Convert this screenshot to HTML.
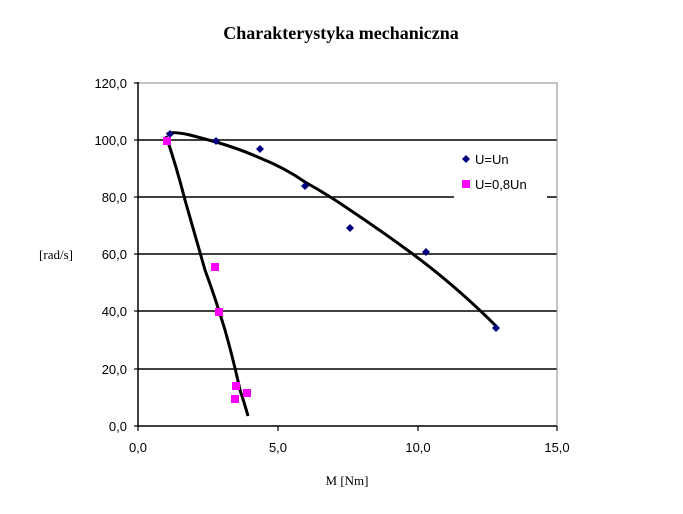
<!DOCTYPE html>
<html><head><style>body{margin:0;background:#fff}</style></head><body>
<svg width="683" height="509" viewBox="0 0 683 509" xmlns="http://www.w3.org/2000/svg">
<rect width="683" height="509" fill="#fff"/>
<text x="341" y="39" text-anchor="middle" font-family="Liberation Serif" font-weight="bold" font-size="18">Charakterystyka mechaniczna</text>
<g stroke="#000" stroke-width="1.5">
<line x1="138" y1="140" x2="557" y2="140"/>
<line x1="138" y1="197" x2="454" y2="197"/>
<line x1="547" y1="197" x2="557" y2="197"/>
<line x1="138" y1="254" x2="557" y2="254"/>
<line x1="138" y1="311" x2="557" y2="311"/>
<line x1="138" y1="369" x2="557" y2="369"/>
<line x1="138" y1="426" x2="557" y2="426"/>
</g>
<polyline points="138,83 557,83 557,426" fill="none" stroke="#888" stroke-width="1"/>
<line x1="138" y1="82" x2="138" y2="427" stroke="#000" stroke-width="1.5"/>
<g stroke="#000" stroke-width="1.2">
<line x1="134" y1="83" x2="138" y2="83"/><line x1="134" y1="140" x2="138" y2="140"/><line x1="134" y1="197" x2="138" y2="197"/><line x1="134" y1="254" x2="138" y2="254"/><line x1="134" y1="311" x2="138" y2="311"/><line x1="134" y1="369" x2="138" y2="369"/><line x1="134" y1="426" x2="138" y2="426"/>
<line x1="138" y1="426" x2="138" y2="431"/><line x1="278" y1="426" x2="278" y2="431"/><line x1="418" y1="426" x2="418" y2="431"/><line x1="557" y1="426" x2="557" y2="431"/>
</g>
<g font-family="Liberation Sans" font-size="13" text-anchor="end">
<text x="127" y="88">120,0</text><text x="127" y="145">100,0</text><text x="127" y="202">80,0</text><text x="127" y="259">60,0</text><text x="127" y="316">40,0</text><text x="127" y="374">20,0</text><text x="127" y="431">0,0</text>
</g>
<g font-family="Liberation Sans" font-size="13" text-anchor="middle">
<text x="138" y="452">0,0</text><text x="278" y="452">5,0</text><text x="418" y="452">10,0</text><text x="557" y="452">15,0</text>
</g>
<text x="56" y="259" font-family="Liberation Serif" font-size="13" text-anchor="middle">[rad/s]</text>
<text x="347" y="485" font-family="Liberation Serif" font-size="13" text-anchor="middle">M [Nm]</text>
<path d="M167,134 Q172,131 190,135 L216,142 Q240,149 260,158 Q285,168 305,182 Q330,196 350,210 Q380,230 410,252 Q455,285 496,326" fill="none" stroke="#000" stroke-width="3"/>
<path d="M166,136 Q176,165 185,200 Q196,238 205,270 Q216,300 225,330 Q234,362 240,390 Q245,405 248,416" fill="none" stroke="#000" stroke-width="3"/>
<g fill="#000080">
<path d="M170,130 l4,4 -4,4 -4,-4z"/><path d="M216,137 l4,4 -4,4 -4,-4z"/><path d="M260,145 l4,4 -4,4 -4,-4z"/><path d="M305,182 l4,4 -4,4 -4,-4z"/><path d="M350,224 l4,4 -4,4 -4,-4z"/><path d="M426,248 l4,4 -4,4 -4,-4z"/><path d="M496,324 l4,4 -4,4 -4,-4z"/>
<path d="M466,155 l4,4 -4,4 -4,-4z"/>
</g>
<g fill="#ff00ff">
<rect x="163" y="137" width="8" height="8"/><rect x="211" y="263" width="8" height="8"/><rect x="215" y="308" width="8" height="8"/><rect x="232" y="382" width="8" height="8"/><rect x="243" y="389" width="8" height="8"/><rect x="231" y="395" width="8" height="8"/>
<rect x="462" y="180" width="8" height="8"/>
</g>
<g font-family="Liberation Sans" font-size="13">
<text x="475" y="164">U=Un</text><text x="475" y="189">U=0,8Un</text>
</g>
</svg>
</body></html>
